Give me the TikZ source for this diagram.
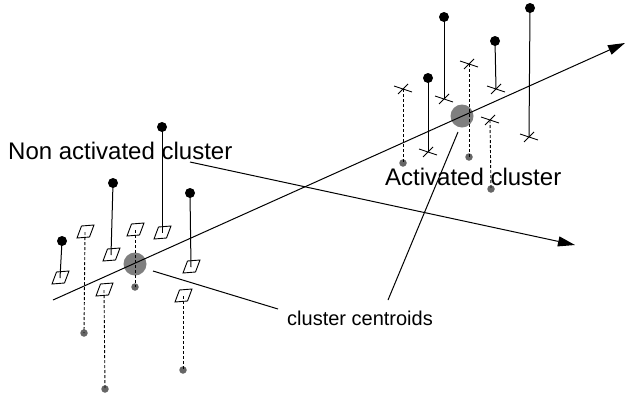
\documentclass[tikz,border=0pt]{standalone}
\usepackage{fontspec}
\setmainfont{Liberation Sans}
\usetikzlibrary{arrows.meta}
\definecolor{centgray}{HTML}{7F7F7F}
\definecolor{dotgray}{HTML}{666666}
\begin{document}
\begin{tikzpicture}[x=1pt,y=-1pt,
  ball/.style={circle,fill=black,inner sep=0pt,minimum size=10pt},
  gdot/.style={circle,fill=dotgray,inner sep=0pt,minimum size=7.5pt},
  centroid/.style={circle,fill=centgray,inner sep=0pt,minimum size=23pt},
  stem/.style={line width=1pt},
  dstem/.style={line width=0.9pt,dash pattern=on 3pt off 2pt},
  markline/.style={line width=0.9pt},
  axis/.style={line width=1pt,-{Triangle[length=17pt,width=10pt]}},
  pointer/.style={line width=1pt},
  bigtxt/.style={inner sep=0pt,anchor=base west,font=\fontsize{24}{28}\selectfont},
  smalltxt/.style={inner sep=0pt,anchor=base west,font=\fontsize{20}{24}\selectfont}]
\useasboundingbox (0,0) rectangle (626,397);
% centroids
\node[centroid] (cL) at (135,264) {};
\node[centroid] (cR) at (462,116) {};
% axes
\coordinate (ax1) at (53,300);
\coordinate (ax2) at (625,43);
\draw[axis] (ax1) -- (ax2);
\coordinate (bx1) at (190,162);
\coordinate (bx2) at (575,245);
\draw[axis] (bx1) -- (bx2);
% labels
\node[bigtxt] (lnon) at (8,159) {Non activated cluster};
\node[bigtxt] (lact) at (385,185) {Activated cluster};
\node[smalltxt] (lcen) at (287,325) {cluster centroids};
% pointers
\coordinate (p1a) at (153,271);
\coordinate (p1b) at (278,309);
\draw[pointer] (p1a) -- (p1b);
\coordinate (p2a) at (388,300);
\coordinate (p2b) at (458,132);
\draw[pointer] (p2a) -- (p2b);
% left cluster: ball -> parallelogram (solid)
\foreach \bx/\by/\px/\py [count=\i] in {62/241/60/278, 113/183/111/255, 162/127/162/233, 190/193/191/267}{
  \coordinate (lp\i) at (\px,\py);
  \node[ball] (lb\i) at (\bx,\by) {};
  \draw[stem] (lb\i.center) -- (lp\i);
  \draw[markline,shift={(lp\i)}] (-3.5,-6) -- (9,-7) -- (4.5,5) -- (-8,6) -- cycle;
}
% left cluster: parallelogram -> gray dot (dashed)
\foreach \px/\py/\dx/\dy [count=\i] in {85/232/84/333, 135/230/135/287, 104/290/105/389, 183/296/183/370}{
  \coordinate (lq\i) at (\px,\py);
  \node[gdot] (ld\i) at (\dx,\dy) {};
  \draw[dstem] (lq\i) -- (ld\i.center);
  \draw[markline,shift={(lq\i)}] (-3.5,-6) -- (9,-7) -- (4.5,5) -- (-8,6) -- cycle;
}
% right cluster: ball -> cross (solid)
\foreach \bx/\by/\px/\py [count=\i] in {428/78/428/152, 444/17/444/99, 495/41/496/89, 530/8/529/137}{
  \coordinate (rp\i) at (\px,\py);
  \node[ball] (rb\i) at (\bx,\by) {};
  \draw[stem] (rb\i.center) -- (rp\i);
  \draw[markline,shift={(rp\i)}] (-9,-3) -- (9,3) (-5,5) -- (5,-5);
}
% right cluster: cross -> gray dot (dashed)
\foreach \px/\py/\dx/\dy [count=\i] in {403/89/403/163, 469/64/469/157, 490/120/491/189}{
  \coordinate (rq\i) at (\px,\py);
  \node[gdot] (rd\i) at (\dx,\dy) {};
  \draw[dstem] (rq\i) -- (rd\i.center);
  \draw[markline,shift={(rq\i)}] (-9,-3) -- (9,3) (-5,5) -- (5,-5);
}
\end{tikzpicture}
\end{document}
